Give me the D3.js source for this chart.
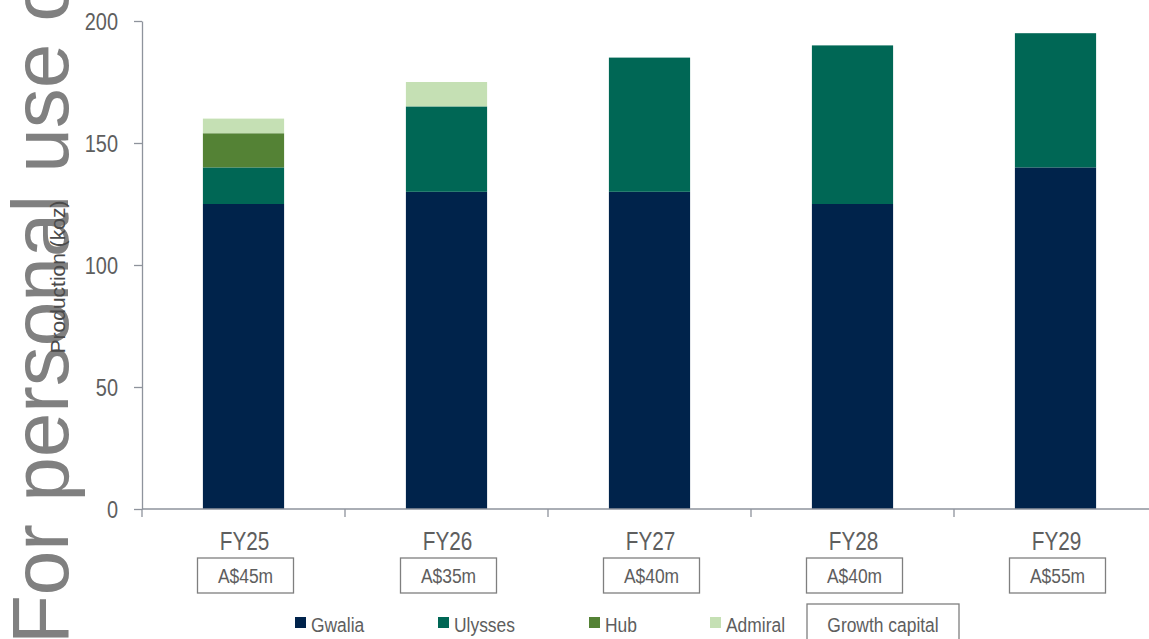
<!DOCTYPE html>
<html>
<head>
<meta charset="utf-8">
<script src="https://cdn.jsdelivr.net/npm/d3@7"></script>
<style>
  html, body { margin: 0; padding: 0; background: #ffffff; }
  svg { display: block; }
</style>
</head>
<body>
<svg id="chart" width="1149" height="639"></svg>
<script>
const categories = ["FY25", "FY26", "FY27", "FY28", "FY29"];
const seriesNames = ["Gwalia", "Ulysses", "Hub", "Admiral"];
const gwalia  = [125, 130, 130, 125, 140];
const ulysses = [15, 35, 55, 65, 55];
const hub     = [14, 0, 0, 0, 0];
const admiral = [6, 10, 0, 0, 0];
const growthCapital = ["A$45m", "A$35m", "A$40m", "A$40m", "A$55m"];
const yTicks = [0, 50, 100, 150, 200];
const yLabel = "Production (koz)";
const growthLabel = "Growth capital";
const watermark = "For personal use only";

const colors = ["#00234b", "#006755", "#548235", "#c5e0b4"];
const font = "'Liberation Sans', Arial, sans-serif";
const NARROW = 0.83;
const textCol = "#5e5e5e";
const axisCol = "#8e939c";

const svg = d3.select("#chart");

// condensed text helper: places text at (px,py), squeezed horizontally
function narrowText(sel, px, py, size) {
  return sel.attr("transform", (d, i) => {
    const X = typeof px === "function" ? px(d, i) : px;
    const Y = typeof py === "function" ? py(d, i) : py;
    return `translate(${X},${Y}) scale(${NARROW},1)`;
  })
  .attr("font-family", font).attr("font-size", size).attr("fill", textCol);
}

const rows = categories.map((c, i) => ({
  cat: c, Gwalia: gwalia[i], Ulysses: ulysses[i], Hub: hub[i], Admiral: admiral[i]
}));
const stacked = d3.stack().keys(seriesNames)(rows);

const x = d3.scaleBand().domain(categories).range([142, 1157]).paddingInner(0.6).paddingOuter(0.3);
const y = d3.scaleLinear().domain([0, 200]).range([509, 21]);

// watermark
svg.append("text")
  .attr("transform", "translate(68,644) rotate(-90)")
  .attr("font-family", font)
  .attr("font-size", 80)
  .attr("fill", "#808080")
  .text(watermark);

// bars
svg.append("g").selectAll("g").data(stacked).join("g")
  .attr("fill", (d, i) => colors[i])
  .selectAll("rect").data(d => d.filter(s => s[1] - s[0] > 0).map(s => ({s, cat: s.data.cat})))
  .join("rect")
  .attr("x", d => x(d.cat))
  .attr("width", x.bandwidth())
  .attr("y", d => y(d.s[1]))
  .attr("height", d => y(d.s[0]) - y(d.s[1]));

// y axis
const yAxis = svg.append("g").attr("transform", "translate(142,0)")
  .call(d3.axisLeft(y).tickValues(yTicks).tickSize(8).tickSizeOuter(0).tickFormat(""));
yAxis.select(".domain").attr("stroke", axisCol).attr("stroke-width", 1.3);
yAxis.selectAll(".tick line").attr("stroke", axisCol).attr("stroke-width", 1.3);
narrowText(svg.append("g").selectAll("text").data(yTicks).join("text"),
    118, d => y(d) + 8.5, 24)
  .attr("text-anchor", "end")
  .text(d => d);

// x axis line with ticks at band boundaries
const xg = svg.append("g");
xg.append("line").attr("x1", 142).attr("x2", 1157).attr("y1", y(0)).attr("y2", y(0))
  .attr("stroke", axisCol).attr("stroke-width", 1.3);
const bounds = categories.map(c => x(c) - x.step() * x.paddingOuter()).concat([1157]);
xg.selectAll(".bt").data(bounds).join("line")
  .attr("x1", d => d).attr("x2", d => d).attr("y1", y(0)).attr("y2", y(0) + 8)
  .attr("stroke", axisCol).attr("stroke-width", 1.3);
narrowText(xg.selectAll(".cl").data(categories).join("text"),
    d => x(d) + x.bandwidth() / 2 + 1, 550, 25)
  .attr("text-anchor", "middle")
  .text(d => d);

// growth capital boxes
const gb = svg.append("g").selectAll("g").data(categories).join("g")
  .attr("transform", d => `translate(${x(d) + x.bandwidth() / 2 + 2},0)`);
gb.append("rect").attr("x", -48).attr("y", 558).attr("width", 96).attr("height", 35)
  .attr("fill", "none").attr("stroke", "#7f7f7f").attr("stroke-width", 1.3);
narrowText(gb.append("text"), 0, 583, 21)
  .attr("text-anchor", "middle")
  .text((d, i) => growthCapital[i]);

// y label
svg.append("text")
  .attr("transform", "translate(65,277) rotate(-90)")
  .attr("text-anchor", "middle")
  .attr("font-family", font).attr("font-size", 21).attr("fill", "#4a4a4a")
  .text(yLabel);

// legend
const legendX = [295, 438, 589, 710];
const lg = svg.append("g").selectAll("g").data(seriesNames).join("g")
  .attr("transform", (d, i) => `translate(${legendX[i]},0)`);
lg.append("rect").attr("x", 0).attr("y", 617).attr("width", 11).attr("height", 11)
  .attr("fill", (d, i) => colors[i]);
narrowText(lg.append("text"), 16, 632, 21).text(d => d);

svg.append("rect").attr("x", 807).attr("y", 604).attr("width", 152).attr("height", 45)
  .attr("fill", "none").attr("stroke", "#7f7f7f").attr("stroke-width", 1.3);
narrowText(svg.append("text"), 883, 632, 21)
  .attr("text-anchor", "middle")
  .text(growthLabel);
</script>
</body>
</html>
